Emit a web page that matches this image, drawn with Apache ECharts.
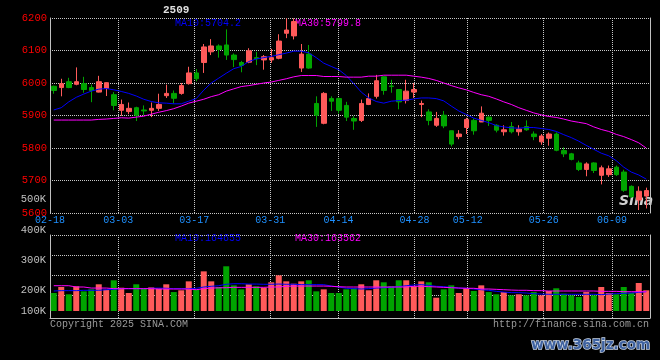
<!DOCTYPE html>
<html><head><meta charset="utf-8">
<script src="https://cdn.jsdelivr.net/npm/echarts@6/dist/echarts.min.js"></script>
<style>html,body{margin:0;padding:0;background:#000}#c{width:660px;height:360px}</style>
</head><body><div id="c"></div>
<script>
// ---------- data ----------
const dates = ["02-18","02-19","02-20","02-21","02-24","02-25","02-26","02-27","02-28",
"03-03","03-04","03-05","03-06","03-07","03-10","03-11","03-12","03-13","03-14",
"03-17","03-18","03-19","03-20","03-21","03-24","03-25","03-26","03-27","03-28",
"03-31","04-01","04-02","04-03","04-07","04-08","04-09","04-10","04-11",
"04-14","04-15","04-16","04-17","04-18","04-21","04-22","04-23","04-24","04-25",
"04-28","04-29","04-30","05-06","05-07","05-08","05-09",
"05-12","05-13","05-14","05-15","05-16","05-19","05-20","05-21","05-22","05-23",
"05-26","05-27","05-28","05-29","05-30","06-03","06-04","06-05","06-06",
"06-09","06-10","06-11","06-12","06-13","06-16"];
const tickDates = ["02-18","03-03","03-17","03-31","04-14","04-28","05-12","05-26","06-09"];
const opens = [5990,5986,6004,5996,5998,5986,5972,5983,5964,5916,5912,5924,5917,5916,5922,5961,5968,5968,5998,6031,
6063,6096,6114,6117,6086,6063,6064,6078,6071,6071,6076,6153,6145,6046,6089,5937,5876,5952,5952,5931,
5891,5885,5934,5959,6019,5991,5980,5946,5972,5934,5911,5870,5901,5853,5835,5863,5885,5880,5895,5870,
5850,5866,5850,5866,5843,5819,5830,5843,5792,5782,5754,5734,5754,5716,5718,5741,5726,5682,5640,5652];
const closes = [5977,5998,5986,6004,5980,5977,6004,6001,5931,5934,5922,5901,5914,5922,5934,5968,5953,5992,6031,6013,
6111,6114,6103,6086,6072,6054,6099,6075,6081,6078,6129,6163,6189,6089,6046,5901,5968,5944,5916,5895,
5883,5937,5952,6007,5977,5989,5942,5975,5980,5937,5885,5891,5868,5812,5843,5888,5853,5907,5885,5855,
5856,5850,5858,5856,5835,5837,5843,5793,5782,5765,5734,5751,5731,5739,5736,5718,5670,5650,5667,5669];
const highs = [5992,6013,6016,6048,6019,5995,6022,6002,5972,5949,5940,5927,5931,5940,5967,5995,5977,6000,6050,6043,
6120,6135,6119,6165,6091,6068,6107,6096,6086,6105,6150,6199,6199,6120,6117,5959,5972,5959,5956,5942,
5898,5949,5968,6025,6020,6010,5980,6010,6000,5946,5919,5911,5914,5853,5855,5893,5891,5928,5898,5873,
5870,5880,5870,5885,5851,5843,5848,5848,5802,5785,5761,5756,5756,5746,5746,5746,5733,5685,5682,5678];
const lows = [5967,5959,5984,5993,5970,5941,5971,5960,5916,5899,5904,5883,5901,5895,5914,5954,5937,5964,5995,6005,
6031,6086,6078,6071,6049,6033,6061,6055,6041,6062,6073,6138,6134,6034,6044,5865,5873,5914,5906,5883,
5856,5880,5932,5952,5964,5970,5919,5937,5954,5895,5870,5865,5861,5805,5827,5843,5841,5880,5868,5848,
5838,5845,5838,5853,5824,5810,5807,5790,5772,5762,5729,5713,5723,5688,5711,5714,5665,5647,5609,5614];
const ma10 = [5917,5924,5942,5956,5966,5975,5981,5983,5979,5974,5968,5960,5950,5943,5939,5938,5936,5936,5944,5952,
5978,6000,6015,6030,6044,6051,6066,6074,6078,6082,6087,6092,6098,6098,6093,6078,6061,6051,6041,6023,
5998,5972,5954,5943,5938,5944,5946,5947,5951,5954,5954,5952,5945,5929,5914,5903,5892,5885,5878,5869,
5865,5862,5861,5863,5863,5860,5857,5851,5841,5832,5821,5808,5796,5784,5776,5761,5741,5726,5717,5704.2];
const ma30 = [5886,5886,5886,5886,5886,5886,5888,5889,5891,5893,5892,5895,5898,5904,5910,5915,5921,5929,5938,5944,
5950,5958,5964,5975,5982,5989,5992,5996,6000,6003,6008,6013,6019,6023,6023,6023,6020,6020,6020,6018,
6018,6018,6021,6021,6024,6024,6024,6024,6021,6018,6014,6008,6000,5992,5985,5979,5971,5964,5959,5951,
5942,5934,5924,5916,5908,5902,5897,5894,5889,5883,5879,5875,5865,5857,5851,5842,5835,5826,5816,5799.8];
const volumes = [153000,204000,142000,210000,167000,184000,227000,181000,261000,198000,
153000,227000,190000,201000,190000,227000,161000,176000,252000,184000,
337000,252000,204000,380000,218000,184000,227000,210000,198000,244000,
303000,252000,232000,252000,261000,167000,184000,153000,153000,184000,
195000,227000,176000,261000,244000,210000,261000,261000,210000,252000,
244000,113000,184000,218000,153000,195000,170000,218000,161000,142000,
161000,133000,142000,133000,161000,133000,170000,193000,147000,133000,
119000,161000,133000,204000,153000,142000,204000,153000,238000,176000];
const volMa10 = [170000,173000,173000,173000,176000,176000,176000,181000,184000,190000,
190000,190000,190000,193000,195000,193000,190000,190000,190000,193000,
204000,210000,215000,227000,232000,232000,229000,229000,227000,227000,
229000,227000,227000,224000,224000,224000,224000,212000,204000,193000,
190000,187000,190000,195000,198000,201000,207000,215000,221000,224000,
218000,210000,207000,201000,195000,193000,187000,181000,176000,167000,
161000,156000,156000,153000,147000,144000,142000,142000,142000,142000,
142000,142000,142000,139000,144000,147000,150000,153000,158000,164655];
const volMa30 = [215000,215000,215000,204000,204000,195000,195000,195000,190000,190000,
190000,190000,190000,190000,187000,187000,187000,187000,187000,181000,
190000,195000,197000,198000,201000,201000,201000,201000,201000,204000,
204000,210000,212000,212000,212000,212000,212000,210000,206000,204000,
204000,204000,204000,204000,204000,204000,204000,204000,210000,210000,
207000,204000,201000,198000,195000,193000,193000,187000,187000,184000,
181000,178000,176000,176000,173000,173000,170000,170000,170000,170000,
170000,170000,170000,167000,167000,167000,164000,164000,164000,163562];
const volTickLabels = [100000,200000,300000,400000,500000];

// ---------- style ----------
const RED = '#ff5a5a', GREEN = '#00a400', BORDER = '#c0c0c0', GRIDC = '#c8c8c8';
const FONT = '"Liberation Mono","DejaVu Sans Mono",monospace';
const tickSet = new Set(tickDates.map(d => dates.indexOf(d)));
const isTick = (i) => tickSet.has(i);
const dotted = {show: true, lineStyle: {color: GRIDC, type: [1, 1], width: 1}};
const noAxis = {axisLine: {show: false}, axisTick: {show: false}, axisLabel: {show: false}, splitLine: {show: false}};

const candles = dates.map((d, i) => [opens[i], closes[i], lows[i], highs[i]]);
const volBars = volumes.map((v, i) => ({value: v, itemStyle: {color: closes[i] >= opens[i] ? RED : GREEN}}));
const last = a => a[a.length - 1];

const chart = echarts.init(document.getElementById('c'), null, {renderer: 'canvas'});
const gridBase = {left: 50, width: 600, show: false, containLabel: false, outerBoundsMode: 'none'};
chart.setOption({
  backgroundColor: '#000',
  animation: false,
  grid: [
    Object.assign({}, gridBase, {top: 18, height: 195}),
    Object.assign({}, gridBase, {top: 235, height: 83}),
    Object.assign({}, gridBase, {top: 235, height: 60}),
    Object.assign({}, gridBase, {top: 235, height: 76}),
    Object.assign({}, gridBase, {top: 199.7, height: 121.3})
  ],
  xAxis: [
    Object.assign({type: 'category', gridIndex: 0, data: dates, boundaryGap: true}, noAxis),
    {type: 'category', gridIndex: 0, data: dates, boundaryGap: false, position: 'bottom',
      axisLine: {show: false}, axisTick: {show: false},
      axisLabel: {interval: (i) => isTick(i), color: '#1e90ff', fontSize: 10, fontFamily: FONT, margin: 2},
      splitLine: Object.assign({}, dotted, {interval: (i) => isTick(i)})},
    {type: 'category', gridIndex: 1, data: dates, boundaryGap: false, position: 'bottom',
      axisLine: {show: true, lineStyle: {color: BORDER}}, axisTick: {show: false}, axisLabel: {show: false},
      splitLine: Object.assign({}, dotted, {interval: (i) => isTick(i)})},
    Object.assign({type: 'category', gridIndex: 2, data: dates}, noAxis),
    Object.assign({type: 'category', gridIndex: 3, data: dates, boundaryGap: true}, noAxis),
    Object.assign({type: 'category', gridIndex: 4, data: dates}, noAxis)
  ],
  yAxis: [
    {type: 'value', gridIndex: 0, min: 5600, max: 6200, interval: 100,
      axisLine: {show: true, lineStyle: {color: BORDER}}, axisTick: {show: false},
      axisLabel: {color: '#ff0000', fontSize: 10.5, fontFamily: FONT, margin: 3, formatter: (v) => String(v)},
      splitLine: dotted},
    {type: 'value', gridIndex: 0, position: 'right', min: 5600, max: 6200,
      axisLine: {show: true, lineStyle: {color: BORDER}}, axisTick: {show: false}, axisLabel: {show: false}, splitLine: {show: false}},
    {type: 'value', gridIndex: 1, min: 0, max: 1,
      axisLine: {show: true, lineStyle: {color: BORDER}}, axisTick: {show: false}, axisLabel: {show: false}, splitLine: {show: false}},
    {type: 'value', gridIndex: 1, position: 'right', min: 0, max: 1,
      axisLine: {show: true, lineStyle: {color: BORDER}}, axisTick: {show: false}, axisLabel: {show: false}, splitLine: {show: false}},
    {type: 'value', gridIndex: 2, min: 0, max: 60, interval: 20, inverse: true,
      axisLine: {show: false}, axisTick: {show: false}, axisLabel: {show: false}, splitLine: dotted},
    Object.assign({type: 'value', gridIndex: 3, min: 0, max: 646000}, noAxis),
    {type: 'value', gridIndex: 4, min: volTickLabels[0], max: last(volTickLabels), interval: 100000,
      axisLine: {show: false}, axisTick: {show: false}, splitLine: {show: false},
      axisLabel: {color: '#c0c0c0', fontSize: 10.5, fontFamily: FONT, margin: 4,
        formatter: (v) => v === volTickLabels[0] ? '{lift|' + (v / 1000) + 'K}' : (v / 1000) + 'K',
        rich: {lift: {color: '#c0c0c0', fontSize: 10.5, fontFamily: FONT, padding: [0, 0, 20, 0]}}}}
  ],
  series: [
    {type: 'candlestick', xAxisIndex: 0, yAxisIndex: 0, data: candles, barWidth: 5,
      itemStyle: {color: RED, color0: GREEN, borderColor: RED, borderColor0: GREEN, borderWidth: 1}},
    {type: 'line', xAxisIndex: 0, yAxisIndex: 0, data: ma10, showSymbol: false, symbol: 'none',
      lineStyle: {color: '#0000ff', width: 1}, itemStyle: {color: '#0000ff'}},
    {type: 'line', xAxisIndex: 0, yAxisIndex: 0, data: ma30, showSymbol: false, symbol: 'none',
      lineStyle: {color: '#ff00ff', width: 1}, itemStyle: {color: '#ff00ff'}},
    {type: 'bar', xAxisIndex: 4, yAxisIndex: 5, data: volBars, barWidth: 6},
    {type: 'line', xAxisIndex: 4, yAxisIndex: 5, data: volMa10, showSymbol: false, symbol: 'none',
      lineStyle: {color: '#0000ff', width: 1}},
    {type: 'line', xAxisIndex: 4, yAxisIndex: 5, data: volMa30, showSymbol: false, symbol: 'none',
      lineStyle: {color: '#ff00ff', width: 1}}
  ],
  graphic: [
    {type: 'text', z: 0, style: {text: 'Sina', x: 619, y: 201, verticalAlign: 'middle', fill: '#cfcfcf',
      font: 'italic bold 14px "DejaVu Sans"'}},
    {type: 'text', style: {text: '2509', x: 163, y: 10, verticalAlign: 'middle', fill: '#e0e0e0', font: 'bold 11px ' + FONT}},
    {type: 'text', style: {text: 'MA10:' + last(ma10).toFixed(1), x: 175, y: 23.5, verticalAlign: 'middle', fill: '#0000ff', font: '10px ' + FONT}},
    {type: 'text', style: {text: 'MA30:' + last(ma30).toFixed(1), x: 295, y: 23.5, verticalAlign: 'middle', fill: '#ff00ff', font: '10px ' + FONT}},
    {type: 'text', style: {text: 'MA10:' + last(volMa10), x: 175, y: 238.5, verticalAlign: 'middle', fill: '#0000ff', font: '10px ' + FONT}},
    {type: 'text', style: {text: 'MA30:' + last(volMa30), x: 295, y: 238.5, verticalAlign: 'middle', fill: '#ff00ff', font: '10px ' + FONT}},
    {type: 'text', style: {text: 'Copyright 2025 SINA.COM', x: 50, y: 324, verticalAlign: 'middle', fill: '#9a9a9a', font: '10px ' + FONT}},
    {type: 'text', style: {text: 'http://finance.sina.com.cn', x: 649, y: 324, align: 'right', verticalAlign: 'middle', fill: '#9a9a9a', font: '10px ' + FONT}},
    {type: 'text', style: {text: 'www.365jz.com', x: 650, y: 345, align: 'right', verticalAlign: 'middle',
      fill: '#3f62a0', stroke: '#c8d4e4', lineWidth: 1.5, font: 'bold 13.5px "DejaVu Sans"'}}
  ]
});
</script></body></html>
